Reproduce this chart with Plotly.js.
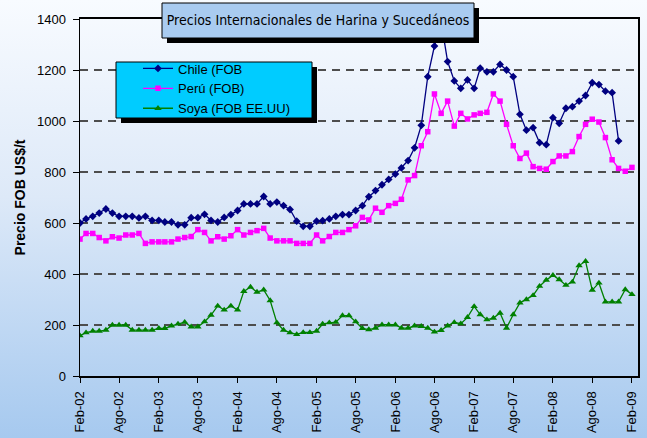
<!DOCTYPE html>
<html>
<head>
<meta charset="utf-8">
<script src="https://cdn.plot.ly/plotly-3.0.1.min.js"></script>
<style>
  html, body { margin: 0; padding: 0; }
  #chart { width: 647px; height: 438px;
    background: linear-gradient(to bottom, #F8FBFF 0%, #DDE9F8 45%, #A6C9EF 100%); }
</style>
</head>
<body>
<div id="chart"></div>
<script>
// ---- data (US$/t, monthly from Feb-2002) ----
const startYear = 2002, startMonth = 2;
const chile = [600, 616, 626, 639, 655, 639, 626, 626, 626, 620, 626, 610, 610, 604, 604, 593, 593, 621, 621, 634, 610, 604,
  622, 633, 649, 675, 675, 675, 704, 675, 682, 668, 653, 607, 587, 587, 607, 609, 616, 626, 633, 633, 649, 668,
  703, 727, 750, 771, 792, 816, 845, 895, 983, 1174, 1294, 1390,
  1233, 1157, 1128, 1161, 1128, 1207, 1193, 1193, 1222, 1200, 1174,
  1026, 964, 974, 915, 907, 1013, 991, 1050, 1056, 1078, 1100, 1150, 1143, 1117, 1111, 922];
const peru = [537, 559, 559, 543, 530, 546, 541, 553, 553, 559, 520, 526, 526, 526, 526, 537, 543, 547, 574, 563, 530, 546,
  537, 550, 574, 553, 563, 570, 579, 541, 530, 530, 530, 520, 520, 520, 553, 530, 547, 563, 563, 574, 589, 622,
  612, 658, 642, 668, 677, 693, 769, 786, 903, 958, 1106, 1030, 1078, 980, 1030, 1008, 1024, 1030, 1034, 1106, 1078, 987, 903,
  853, 874, 821, 814, 811, 841, 863, 863, 880, 939, 987, 1007, 996, 935, 848, 814, 803, 818];
const soya = [158, 170, 176, 176, 180, 200, 200, 200, 180, 180, 180, 180, 187, 187, 197, 204, 211, 193, 193, 213, 239, 275,
  259, 275, 259, 332, 349, 329, 338, 296, 209, 180, 170, 163, 171, 171, 176, 204, 209, 211, 237, 237, 213, 187,
  182, 188, 201, 201, 201, 188, 188, 197, 195, 188, 173, 179, 197, 210, 205, 230, 273, 241, 221, 227, 247, 188, 241,
  287, 300, 316, 352, 376, 395, 378, 356, 369, 433, 450, 337, 365, 291, 291, 291, 339, 320];
const seriesNames = ['Chile (FOB', 'Perú (FOB)', 'Soya (FOB EE.UU)'];
const tickLabels = ['Feb-02','Ago-02','Feb-03','Ago-03','Feb-04','Ago-04','Feb-05','Ago-05','Feb-06','Ago-06','Feb-07','Ago-07','Feb-08','Ago-08','Feb-09'];
const titleText = 'Precios Internacionales de Harina y Sucedáneos';
const yTitle = 'Precio FOB US$/t';

// ---- helpers ----
function monthStr(i) {
  const m0 = startMonth - 1 + i;
  const y = startYear + Math.floor(m0 / 12);
  const m = (m0 % 12) + 1;
  return y + '-' + String(m).padStart(2, '0') + '-01';
}
const allMonths = peru.map((_, i) => monthStr(i));
const tickVals = tickLabels.map((_, k) => monthStr(k * 6));

const W = 647, H = 438, ML = 80, MR = 9, MT = 19, MB = 62;
const PW = W - ML - MR, PH = H - MT - MB;
const xp = px => (px - ML) / PW;
const yp = py => (H - MB - py) / PH;

const FONT = 'Liberation Sans, Arial, sans-serif';

const traces = [
  { x: allMonths.slice(0, chile.length), y: chile, name: seriesNames[0], mode: 'lines+markers',
    line: { color: '#000080', width: 1.3 }, marker: { symbol: 'diamond', size: 6, color: '#000080' } },
  { x: allMonths.slice(0, peru.length), y: peru, name: seriesNames[1], mode: 'lines+markers',
    line: { color: '#FF00FF', width: 1.3 }, marker: { symbol: 'square', size: 5.5, color: '#FF00FF' } },
  { x: allMonths.slice(0, soya.length), y: soya, name: seriesNames[2], mode: 'lines+markers',
    line: { color: '#008000', width: 1.3 }, marker: { symbol: 'triangle-up', size: 6.5, color: '#008000' } }
];

const rect = (x0, y0, x1, y1, fill, lw) => ({
  type: 'rect', xref: 'paper', yref: 'paper', layer: 'above',
  x0: xp(x0), x1: xp(x1), y0: yp(y1), y1: yp(y0),
  fillcolor: fill, line: { color: '#000', width: lw }
});

const layout = {
  width: W, height: H,
  margin: { l: ML, r: MR, t: MT, b: MB, pad: 0 },
  paper_bgcolor: 'rgba(0,0,0,0)', plot_bgcolor: 'rgba(0,0,0,0)',
  font: { family: FONT, size: 13, color: '#000' },
  showlegend: true,
  title: { text: titleText, x: 318 / W, y: 1 - 20.5 / H, xanchor: 'center', yanchor: 'middle',
           font: { family: 'DejaVu Sans Condensed, DejaVu Sans, sans-serif', size: 14, color: '#000' } },
  xaxis: {
    type: 'date', range: ['2002-02-01', '2009-03-01'],
    tickmode: 'array', tickvals: tickVals, ticktext: tickLabels, tickangle: -90,
    ticks: 'outside', ticklen: 5, tickcolor: '#000', tickwidth: 1,
    showline: true, linecolor: '#000', linewidth: 2, mirror: true,
    showgrid: false, zeroline: false, fixedrange: true,
    tickfont: { family: FONT, size: 13, color: '#000' }, ticklabelstandoff: 3
  },
  yaxis: {
    range: [0, 1400], tick0: 0, dtick: 200,
    ticks: 'outside', ticklen: 6, tickcolor: '#000', tickwidth: 1,
    showline: true, linecolor: '#000', linewidth: 1.5, mirror: true,
    showgrid: true, gridcolor: '#4d4d4d', gridwidth: 1.3, griddash: '8px,6px',
    zeroline: false, fixedrange: true,
    tickfont: { family: FONT, size: 13, color: '#000' }, ticklabelstandoff: 4,
    title: { text: '<b>' + yTitle + '</b>', font: { family: FONT, size: 14, color: '#000' }, standoff: 8 }
  },
  legend: {
    x: xp(138), y: yp(53.5), xanchor: 'left', yanchor: 'top',
    bgcolor: 'rgba(0,0,0,0)', borderwidth: 0,
    font: { family: FONT, size: 13, color: '#000' }
  },
  shapes: [
    rect(167, 8, 479, 43, '#000', 0),
    rect(162, 3, 474, 38, '#A9CBF0', 1),
    rect(121, 67, 317, 123, '#000', 0),
    rect(116, 62, 312, 118, '#00CCFF', 1)
  ]
};

Plotly.newPlot('chart', traces, layout, { displayModeBar: false, staticPlot: true });
</script>
</body>
</html>
